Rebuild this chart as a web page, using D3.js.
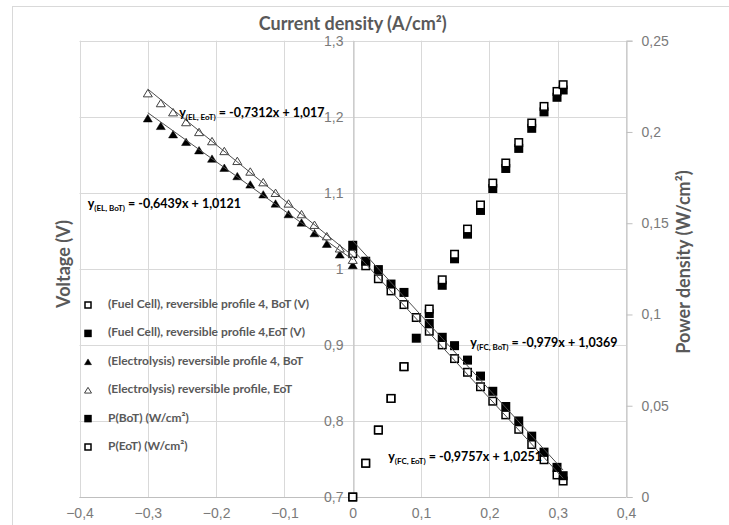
<!DOCTYPE html>
<html>
<head>
<meta charset="utf-8">
<script src="https://cdn.jsdelivr.net/npm/d3@7"></script>
<style>
  body { margin: 0; background: #fff; }
  svg { font-family: Lato, "Open Sans", sans-serif; }
</style>
</head>
<body>
<div id="chart"></div>
<script>
// tick values
const currentTicks = [-0.4, -0.3, -0.2, -0.1, 0, 0.1, 0.2, 0.3, 0.4];
const voltageTicks = [0.7, 0.8, 0.9, 1.0, 1.1, 1.2, 1.3];
const powerTicks = [0, 0.05, 0.1, 0.15, 0.2, 0.25];

// electrolysis branch (negative current)
const elCurrent = [-0.3, -0.281, -0.263, -0.244, -0.225, -0.206, -0.188, -0.169, -0.15,
  -0.131, -0.113, -0.094, -0.075, -0.056, -0.038, -0.019, 0];
const elVoltBoT = [1.198, 1.188, 1.177, 1.167, 1.156, 1.145, 1.133, 1.122, 1.111,
  1.098, 1.086, 1.072, 1.061, 1.047, 1.033, 1.019, 1.005];
const elVoltEoT = [1.231, 1.218, 1.206, 1.193, 1.18, 1.168, 1.155, 1.142, 1.128,
  1.114, 1.1, 1.086, 1.072, 1.058, 1.043, 1.027, 1.012];

// fuel cell branch (positive current)
const fcCurrent = [0, 0.019, 0.0375, 0.056, 0.075, 0.093, 0.112, 0.131, 0.149,
  0.168, 0.187, 0.205, 0.224, 0.243, 0.262, 0.28, 0.299, 0.308];
const fcVoltBoT = [1.02, 1.004, 0.987, 0.971, 0.953, 0.936, 0.918, 0.9, 0.882,
  0.864, 0.845, 0.826, 0.808, 0.789, 0.769, 0.749, 0.729, 0.721];
const fcVoltEoT = [1.031, 1.01, 0.999, 0.98, 0.969, null, 0.928, 0.91, 0.899,
  0.88, 0.859, 0.839, 0.819, 0.8, 0.78, 0.759, 0.739, 0.728];
const powerBoT = [0, 0.0185, 0.0367, 0.054, 0.0714, 0.087, 0.1005, 0.116, 0.1305,
  0.144, 0.157, 0.169, 0.18, 0.191, 0.202, 0.211, 0.219, 0.223];
const powerEoT = [0, 0.0185, 0.0367, 0.054, 0.0714, null, 0.103, 0.119, 0.133,
  0.1468, 0.16, 0.172, 0.183, 0.1942, 0.2049, 0.214, 0.2222, 0.2259];

// linear trendlines as printed on the chart
const trendNames = ["EL, EoT", "EL, BoT", "FC, BoT", "FC, EoT"];
const trendSlopes = [-0.7312, -0.6439, -0.979, -0.9757];
const trendIntercepts = [1.017, 1.0121, 1.0369, 1.0251];
const trendTexts = [" = -0,7312x + 1,017", " = -0,6439x + 1,0121", " = -0,979x + 1,0369", " = -0,9757x + 1,0251"];
const trendRanges = [[-0.3, 0], [-0.3, 0], [0, 0.308], [0, 0.308]];

const legendLabels = [
  "(Fuel Cell), reversible profile 4, BoT (V)",
  "(Fuel Cell), reversible profile 4,EoT (V)",
  "(Electrolysis) reversible profile 4, BoT",
  "(Electrolysis) reversible profile, EoT",
  "P(BoT) (W/cm²)",
  "P(EoT) (W/cm²)"
];

const width = 729, height = 525;
const plot = { left: 79.5, right: 626, top: 40.7, bottom: 497 };

// where the equation labels sit, in data units
const labelAnchors = [[-0.254, 1.206], [-0.388, 1.0865], [0.172, 0.9036], [0.052, 0.7536]];

const svg = d3.select("#chart").append("svg")
  .attr("width", width).attr("height", height);

const x = d3.scaleLinear().domain([-0.4, 0.4]).range([plot.left, plot.right]);
const yV = d3.scaleLinear().domain([0.7, 1.3]).range([plot.bottom, plot.top]);
const yP = d3.scaleLinear().domain([0, 0.25]).range([plot.bottom, plot.top]);

const comma = (v) => d3.format("~g")(v).replace(".", ",");

// chart frame
svg.append("rect")
  .attr("x", 12.5).attr("y", 6.5)
  .attr("width", width).attr("height", height)
  .attr("fill", "none").attr("stroke", "#d9d9d9");

// gridlines
const grid = svg.append("g").attr("stroke", "#d9d9d9").attr("stroke-width", 1);
grid.selectAll("line.v").data(currentTicks).join("line")
  .attr("x1", (d) => Math.round(x(d)) + 0.5).attr("x2", (d) => Math.round(x(d)) + 0.5)
  .attr("y1", plot.top).attr("y2", plot.bottom);
grid.selectAll("line.h").data(voltageTicks).join("line")
  .attr("x1", plot.left).attr("x2", plot.right)
  .attr("y1", (d) => Math.round(yV(d)) + 0.5).attr("y2", (d) => Math.round(yV(d)) + 0.5);

// bottom axis
const xAxis = svg.append("g")
  .attr("transform", `translate(0,${Math.round(plot.bottom) + 0.5})`)
  .call(d3.axisBottom(x).tickValues(currentTicks).tickSize(0).tickPadding(11).tickFormat(comma));

// voltage axis at zero current
const vAxis = svg.append("g")
  .attr("transform", `translate(${Math.round(x(0)) + 0.5},0)`)
  .call(d3.axisLeft(yV).tickValues(voltageTicks).tickSize(0).tickPadding(10).tickFormat(comma));

// power axis on the right
const pAxis = svg.append("g")
  .attr("transform", `translate(${Math.round(plot.right) + 0.5},0)`)
  .call(d3.axisRight(yP).tickValues(powerTicks).tickSize(6).tickPadding(9).tickFormat(comma));

for (const ax of [xAxis, vAxis, pAxis]) {
  ax.select(".domain").attr("stroke", "#bfbfbf");
  ax.selectAll(".tick line").attr("stroke", "#bfbfbf");
  ax.selectAll(".tick text")
    .attr("fill", "#7a7a7a")
    .style("font-size", "14px")
    .style("font-weight", 300);
}
xAxis.select(".domain").attr("d", `M${plot.left},0H${plot.right}`);

// axis titles
const titleStyle = (t) => t
  .attr("text-anchor", "middle").attr("dominant-baseline", "middle")
  .attr("fill", "#595959").style("font-size", "18px").style("font-weight", 700);

svg.append("text")
  .attr("x", x(0)).attr("y", 25)
  .call(titleStyle)
  .text("Current density (A/cm²)");

svg.append("text")
  .attr("transform", "translate(65,264) rotate(-90)")
  .call(titleStyle)
  .text("Voltage (V)");

svg.append("text")
  .attr("transform", "translate(685,262) rotate(-90)")
  .call(titleStyle)
  .text("Power density (W/cm²)");

// markers
const triPath = (s) => `M0,${-s * 0.82}L${s},${s * 0.82}L${-s},${s * 0.82}Z`;

function drawMarker(g, type, size) {
  if (type === "sqOpen" || type === "sqFill") {
    g.append("rect")
      .attr("x", -size / 2).attr("y", -size / 2)
      .attr("width", size).attr("height", size)
      .attr("fill", type === "sqOpen" ? "#fff" : "#000")
      .attr("stroke", "#000").attr("stroke-width", 1.5);
  } else {
    g.append("path")
      .attr("d", triPath(size / 2))
      .attr("fill", type === "triOpen" ? "#fff" : "#000")
      .attr("stroke", type === "triOpen" ? "#404040" : "#000")
      .attr("stroke-width", type === "triOpen" ? 1 : 0.5);
  }
}

const series = [
  { xs: fcCurrent, ys: fcVoltBoT, scale: yV, type: "sqOpen" },
  { xs: fcCurrent, ys: fcVoltEoT, scale: yV, type: "sqFill" },
  { xs: elCurrent, ys: elVoltBoT, scale: yV, type: "triFill" },
  { xs: elCurrent, ys: elVoltEoT, scale: yV, type: "triOpen" },
  { xs: fcCurrent, ys: powerBoT, scale: yP, type: "sqFill" },
  { xs: fcCurrent, ys: powerEoT, scale: yP, type: "sqOpen" }
];

for (const s of series) {
  const g = svg.append("g");
  s.xs.forEach((xv, i) => {
    if (s.ys[i] == null) return;
    const m = g.append("g").attr("transform", `translate(${x(xv)},${s.scale(s.ys[i])})`);
    drawMarker(m, s.type, s.type.startsWith("sq") ? 7.5 : 9);
  });
}

// trendlines
const trendLine = d3.line().x((d) => x(d[0])).y((d) => yV(d[1]));
trendNames.forEach((name, i) => {
  const pts = trendRanges[i].map((c) => [c, trendSlopes[i] * c + trendIntercepts[i]]);
  svg.append("path")
    .attr("d", trendLine(pts))
    .attr("fill", "none").attr("stroke", "#4d4d4d").attr("stroke-width", 1);

  const t = svg.append("text")
    .attr("x", x(labelAnchors[i][0])).attr("y", yV(labelAnchors[i][1]) + 4.5)
    .attr("fill", "#000").style("font-size", "12.5px").style("font-weight", 700);
  t.append("tspan").text("y");
  t.append("tspan").attr("dy", 3).style("font-size", "8px").text(`(${name})`);
  t.append("tspan").attr("dy", -3).text(trendTexts[i]);
});

// legend
const legendTypes = ["sqOpen", "sqFill", "triFill", "triOpen", "sqFill", "sqOpen"];
const legend = svg.append("g");
legendLabels.forEach((label, i) => {
  const row = legend.append("g").attr("transform", `translate(88,${305 + i * 28.4})`);
  drawMarker(row.append("g"), legendTypes[i], legendTypes[i].startsWith("sq") ? 6 : 7);
  row.append("text")
    .attr("x", 20).attr("dominant-baseline", "middle")
    .attr("fill", "#595959").style("font-size", "12px").style("font-weight", 700)
    .text(label);
});
</script>
</body>
</html>
